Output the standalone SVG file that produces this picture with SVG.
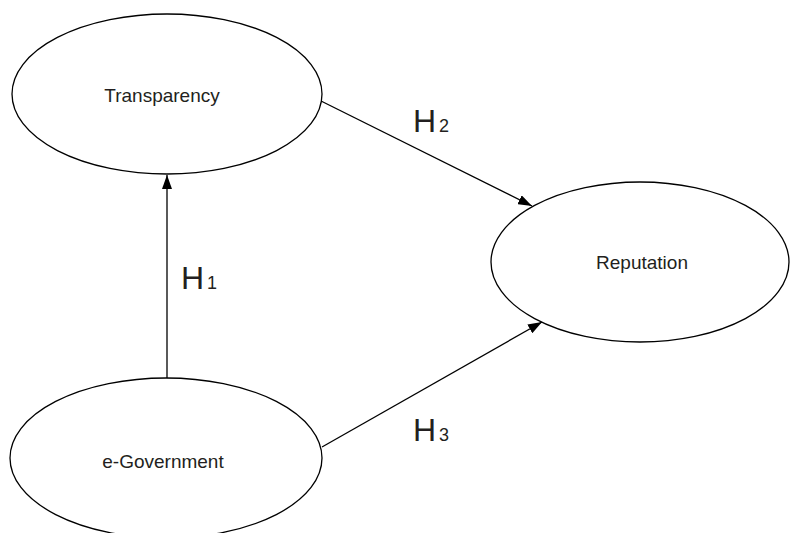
<svg xmlns="http://www.w3.org/2000/svg" width="790" height="533" viewBox="0 0 790 533">
<defs>
<style>
.node{fill:#fff;stroke:#000;stroke-width:1.3}
.lbl{font-family:"Liberation Sans",Arial,sans-serif;font-size:19px;fill:#231f20;text-anchor:middle}
.h{font-family:"Liberation Sans",Arial,sans-serif;font-size:32px;fill:#231f20}
.sub{font-size:18px}
.edge{stroke:#000;stroke-width:1.3;fill:none;marker-end:url(#arr)}
</style>
<marker id="arr" viewBox="0 0 14 10" refX="14" refY="5" markerWidth="14" markerHeight="10" markerUnits="userSpaceOnUse" orient="auto">
<path d="M0,0 L14,5 L0,10 Z" fill="#000"/>
</marker>
</defs>
<rect width="790" height="533" fill="#fff"/>
<g id="edges">
<line class="edge" x1="167" y1="379" x2="167" y2="175"/>
<line class="edge" x1="321" y1="101" x2="532" y2="206"/>
<line class="edge" x1="322" y1="447" x2="542" y2="322"/>
<text class="h" x="181" y="289">H<tspan class="sub" dx="3">1</tspan></text>
<text class="h" x="413" y="132">H<tspan class="sub" dx="3">2</tspan></text>
<text class="h" x="413" y="441">H<tspan class="sub" dx="3">3</tspan></text>
</g>
<g id="transparency">
<ellipse class="node" cx="167" cy="94" rx="155" ry="80"/>
<text class="lbl" x="162" y="102">Transparency</text>
</g>
<g id="reputation">
<ellipse class="node" cx="640" cy="262" rx="149" ry="80"/>
<text class="lbl" x="642" y="269">Reputation</text>
</g>
<g id="egovernment">
<ellipse class="node" cx="166" cy="458" rx="156" ry="80"/>
<text class="lbl" x="163" y="468">e-Government</text>
</g>
</svg>
